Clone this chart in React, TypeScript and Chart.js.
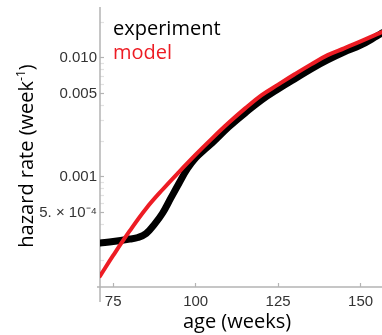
import React, { useEffect, useRef } from "react";
import { Chart, registerables } from "chart.js";

Chart.register(...registerables);

// ---- data ----
const expAges = [71, 75, 80, 82.5, 85, 87.5, 90, 92.5, 95, 97.5, 100, 102.5, 105, 110, 115, 120, 125, 130, 135, 140, 145, 150, 155, 156.5];
const expRate = [2.79e-4, 2.87e-4, 3.01e-4, 3.1e-4, 3.35e-4, 4.0e-4, 4.98e-4, 6.67e-4, 8.91e-4, 1.175e-3, 1.445e-3, 1.68e-3, 1.93e-3, 2.63e-3, 3.45e-3, 4.44e-3, 5.48e-3, 6.66e-3, 8.09e-3, 9.62e-3, 1.12e-2, 1.28e-2, 1.53e-2, 1.62e-2];

const modelAges = [71, 75, 80, 85, 90, 95, 100, 105, 110, 115, 120, 125, 130, 135, 140, 145, 150, 155, 156.5];
const modelRate = [1.47e-4, 2.19e-4, 3.52e-4, 5.44e-4, 7.85e-4, 1.106e-3, 1.54e-3, 2.11e-3, 2.85e-3, 3.77e-3, 4.87e-3, 5.97e-3, 7.29e-3, 8.83e-3, 1.056e-2, 1.205e-2, 1.377e-2, 1.585e-2, 1.65e-2];

const seriesNames = ["experiment", "model"];
const seriesColors = ["#000000", "#ed1c24"];

const xTickValues = [75, 100, 125, 150];
const yTickValues = [5e-4, 0.001, 0.005, 0.01];
const yTickLabels = ["5. × 10⁻⁴", "0.001", "0.005", "0.010"];
const yMinorTickValues = [2e-4, 3e-4, 4e-4, 6e-4, 7e-4, 8e-4, 9e-4, 0.002, 0.003, 0.004, 0.006, 0.007, 0.008, 0.009, 0.02];

const xRange = [71, 156.5];
const yRange = [1.19e-4, 0.0268];

const xTitle = "age (weeks)";
const yTitleMain = "hazard rate (week";
const yTitleSup = "-1";
const yTitleEnd = ")";

const AXIS_COLOR = "#b4b4b4";
const TITLE_FONT = "'Open Sans', 'Noto Sans', sans-serif";

const decorPlugin = {
  id: "decor",
  beforeDatasetsDraw(chart: any) {
    const { ctx, chartArea: a } = chart;
    ctx.save();
    ctx.strokeStyle = AXIS_COLOR;
    ctx.lineWidth = 1.5;
    ctx.beginPath();
    ctx.moveTo(a.left, a.top);
    ctx.lineTo(a.left, a.bottom + 15);
    ctx.moveTo(a.left - 3, a.bottom);
    ctx.lineTo(a.right, a.bottom);
    ctx.stroke();
    ctx.restore();
  },
  afterDraw(chart: any) {
    const { ctx, chartArea: a } = chart;
    ctx.save();
    ctx.font = `20px ${TITLE_FONT}`;
    ctx.textAlign = "left";
    ctx.textBaseline = "alphabetic";
    seriesNames.forEach((name, i) => {
      ctx.fillStyle = seriesColors[i];
      ctx.fillText(name, a.left + 13, a.top + 28 + i * 24);
    });
    ctx.fillStyle = "#000";
    ctx.textAlign = "center";
    ctx.fillText(xTitle, (a.left + a.right) / 2 - 4, chart.height - 7);
    ctx.translate(33, (a.top + a.bottom) / 2 + 9);
    ctx.rotate(-Math.PI / 2);
    ctx.textAlign = "left";
    ctx.font = `20px ${TITLE_FONT}`;
    const w1 = ctx.measureText(yTitleMain).width;
    const w3 = ctx.measureText(yTitleEnd).width;
    ctx.font = `12px ${TITLE_FONT}`;
    const w2 = ctx.measureText(yTitleSup).width;
    const total = w1 + w2 + w3;
    let x = -total / 2;
    ctx.font = `20px ${TITLE_FONT}`;
    ctx.fillText(yTitleMain, x, 0);
    x += w1;
    ctx.font = `12px ${TITLE_FONT}`;
    ctx.fillText(yTitleSup, x, -8);
    x += w2;
    ctx.font = `20px ${TITLE_FONT}`;
    ctx.fillText(yTitleEnd, x, 0);
    ctx.restore();
  },
};

export default function App() {
  const canvasRef = useRef<HTMLCanvasElement | null>(null);

  useEffect(() => {
    document.body.style.margin = "0";
    const canvas = canvasRef.current;
    if (!canvas) return;
    const chart = new Chart(canvas, {
      type: "line",
      data: {
        datasets: [
          {
            label: seriesNames[1],
            data: modelAges.map((a, i) => ({ x: a, y: modelRate[i] })),
            borderColor: seriesColors[1],
            borderWidth: 4,
            pointRadius: 0,
            tension: 0.4,
            borderCapStyle: "round",
            borderJoinStyle: "round",
            fill: false,
            order: 0,
          },
          {
            label: seriesNames[0],
            data: expAges.map((a, i) => ({ x: a, y: expRate[i] })),
            borderColor: seriesColors[0],
            borderWidth: 7,
            pointRadius: 0,
            tension: 0.4,
            borderCapStyle: "round",
            borderJoinStyle: "round",
            fill: false,
            order: 1,
          },
        ],
      },
      options: {
        responsive: false,
        animation: false,
        layout: { padding: { top: 7, right: 0, left: 0, bottom: 0 } },
        plugins: {
          legend: { display: false },
          tooltip: { enabled: false },
          title: { display: false },
        },
        scales: {
          x: {
            type: "linear",
            min: xRange[0],
            max: xRange[1],
            afterFit: (s: any) => {
              s.height = 48;
              s.paddingLeft = 0;
              s.paddingRight = 0;
            },
            afterBuildTicks: (s: any) => {
              s.ticks = xTickValues.map((v) => ({ value: v }));
            },
            border: { display: false },
            grid: {
              drawOnChartArea: false,
              drawTicks: true,
              tickLength: -4,
              tickColor: AXIS_COLOR,
              tickWidth: 1.2,
            },
            ticks: {
              padding: 10,
              color: "#333",
              font: { family: "'Liberation Sans', Arial, sans-serif", size: 15 },
              maxRotation: 0,
              callback: (v: any) => String(v),
            },
          },
          y: {
            type: "logarithmic",
            min: yRange[0],
            max: yRange[1],
            afterFit: (s: any) => {
              s.width = 100;
              s.paddingTop = 0;
              s.paddingBottom = 0;
            },
            afterBuildTicks: (s: any) => {
              const all = [...yTickValues, ...yMinorTickValues].sort((p, q) => p - q);
              s.ticks = all.map((v) => ({ value: v }));
            },
            border: { display: false },
            grid: {
              drawOnChartArea: false,
              drawTicks: true,
              tickLength: -4,
              tickColor: (c: any) =>
                c.tick && yTickValues.includes(c.tick.value) ? AXIS_COLOR : "#e2e2e2",
              tickWidth: 1.2,
            },
            ticks: {
              padding: 7,
              color: "#333",
              autoSkip: false,
              font: { family: "'Liberation Sans', Arial, sans-serif", size: 15 },
              callback: (v: any) => {
                const idx = yTickValues.indexOf(v);
                return idx >= 0 ? yTickLabels[idx] : "";
              },
            },
          },
        },
      },
      plugins: [decorPlugin],
    });
    return () => chart.destroy();
  }, []);

  return (
    <div style={{ width: 382, height: 335 }}>
      <canvas ref={canvasRef} width={382} height={335} style={{ display: "block" }} />
    </div>
  );
}
